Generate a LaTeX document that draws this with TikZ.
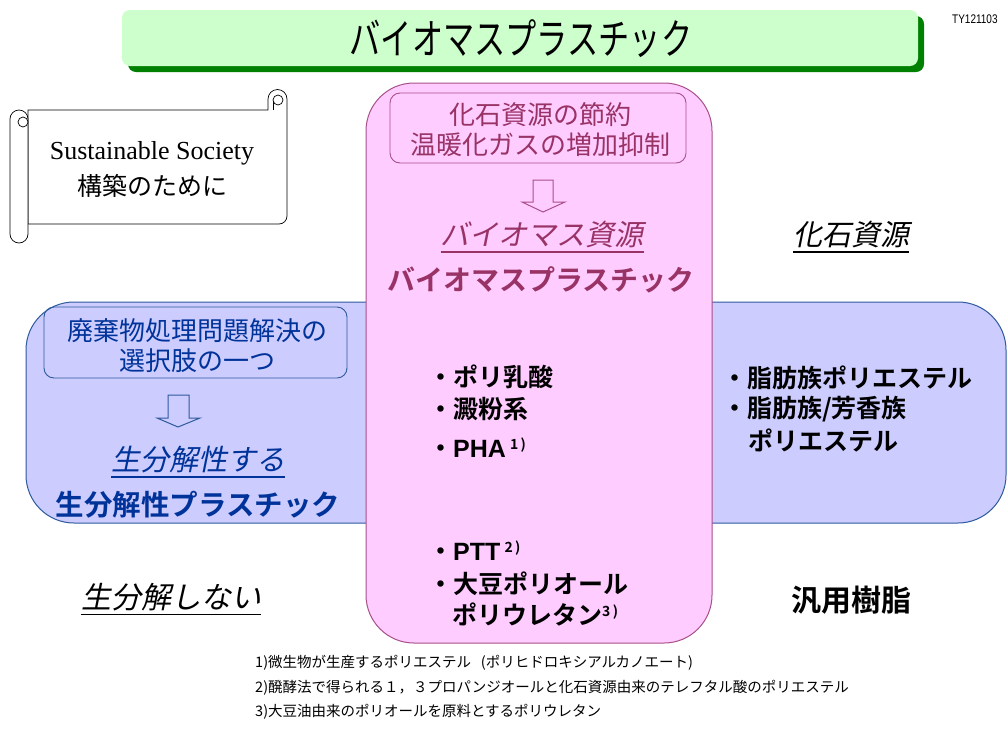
\documentclass[tikz,border=0pt]{standalone}
\usepackage{fontspec}
\setmainfont{Noto Sans CJK JP}[BoldFont={Noto Sans CJK JP Bold}]
\newfontfamily\jpi{Noto Sans CJK JP}[FakeSlant=0.2]
\newfontfamily\latb{Liberation Sans}
\newfontfamily\tnr{Liberation Serif}
\newcommand\myfs[1]{\fontsize{#1}{#1}\selectfont}
\newcommand\myul[1]{\setbox0\hbox{#1}\rlap{\rule[-7pt]{\wd0}{1.5pt}}\box0}
\definecolor{pinkfill}{HTML}{FFCCFF}
\definecolor{pinkline}{HTML}{A8508A}
\definecolor{pinktext}{HTML}{993366}
\definecolor{bluefill}{HTML}{CCCCFF}
\definecolor{blueline}{HTML}{2E5A9E}
\definecolor{bluetext}{HTML}{003399}
\definecolor{greenfill}{HTML}{CCFFCC}
\definecolor{greenshadow}{HTML}{008000}
\tikzset{
  every node/.style={inner sep=0pt},
  bigbox/.style={line width=1pt, rounded corners=48pt},
  innerbox/.style={line width=0.9pt, rounded corners=10pt},
  hollowarrow/.style={line width=1pt, line join=miter},
  jpitext/.style={font=\jpi\myfs{29}},
  jpbold/.style={font=\bfseries\myfs{28}},
  listitem/.style={anchor=west, font=\bfseries\myfs{25}},
  foot/.style={anchor=west, font=\myfs{14.5}},
  scrollline/.style={line width=0.7pt, draw=black, fill=white}
}
\begin{document}
\begin{tikzpicture}[x=1pt,y=-1pt]
\useasboundingbox[fill=white] (0,0) rectangle (1008,742);
% title
\fill[greenshadow, rounded corners=8pt] (128,16) rectangle (924,72);
\fill[greenfill, rounded corners=8pt] (122,10) rectangle (918,66);
\node (title) at (521,39) {\scalebox{0.78}[1.05]{\myfs{40}バイオマスプラスチック}};
\node[anchor=west] (code) at (952,19) {\scalebox{0.8}[1]{\latb\myfs{12.5}TY121103}};
% scroll
\draw[scrollline] (28,110) -- (268,110) -- (268,99)
   arc[start angle=180,end angle=360,radius=9.5] -- (287,216)
   arc[start angle=0,end angle=90,radius=8] -- (28,224) -- cycle;
\draw[scrollline] (28,119) arc[start angle=0,end angle=-180,radius=9] -- (10,234)
   arc[start angle=180,end angle=0,radius=9] -- cycle;
\draw[scrollline] (23,122) circle[radius=5];
\draw[scrollline] (278,100) circle[radius=5];
\draw[line width=0.7pt] (273,101) -- (273,110);
\node (sus) at (152,153) {\tnr\myfs{26}Sustainable Society};
\node (kou) at (152,186) {\myfs{25}構築のために};
% blue horizontal box
\draw[bigbox, fill=bluefill, draw=blueline] (26,302) rectangle (1006,523);
% pink vertical box
\draw[bigbox, fill=pinkfill, draw=pinkline] (366,83) rectangle (712,643);
% pink inner box
\draw[innerbox, draw=pinkline] (390,93) rectangle (686,163);
\node[text=pinktext, font=\myfs{26}, align=center] (save) at (540,130)
  {化石資源の節約\\[4pt]温暖化ガスの増加抑制};
\draw[hollowarrow, draw=pinkline] (533,180) -- (553,180) -- (553,202) -- (565,202)
  -- (543,212) -- (522,202) -- (533,202) -- cycle;
\node[jpitext, text=pinktext] (biores) at (542,237) {\myul{バイオマス資源}};
\node[jpbold, text=pinktext] (biopl) at (541,280) {バイオマスプラスチック};
% blue inner box
\draw[innerbox, draw=blueline] (44,307) rectangle (347,378);
\node[text=bluetext, font=\myfs{26}, align=center] (waste) at (197,346)
  {廃棄物処理問題解決の\\[4pt]選択肢の一つ};
\draw[hollowarrow, draw=blueline] (168,395) -- (189,395) -- (189,418) -- (200,418)
  -- (178,427) -- (157,418) -- (168,418) -- cycle;
\node[jpitext, text=bluetext] (biod) at (198,462) {\myul{生分解性する}};
\node[jpbold, font=\bfseries\myfs{28.5}, text=bluetext] (biodpl) at (198,505) {生分解性プラスチック};
% black labels
\node[jpitext] (fossil) at (851,237) {\myul{化石資源}};
\node[jpbold, font=\bfseries\myfs{30}] (general) at (851,600) {汎用樹脂};
\node[jpitext, font=\jpi\myfs{30}] (nonbio) at (171,599) {\myul{生分解しない}};
% pink lists
\node[listitem] (l1) at (428,377) {・ポリ乳酸};
\node[listitem] (l2) at (428,409) {・澱粉系};
\node[listitem] (l3) at (428,448) {・{\latb\bfseries PHA}\,{\myfs{14}\raisebox{8pt}{1\,)}}};
\node[listitem] (l4) at (428,551) {・{\latb\bfseries PTT}\,{\myfs{14}\raisebox{8pt}{2\,)}}};
\node[listitem] (l5) at (428,584) {・大豆ポリオール};
\node[listitem] (l6) at (452,614) {ポリウレタン{\myfs{14}\raisebox{8pt}{3\,)}}};
% right list
\node[listitem] (r1) at (722,378) {・脂肪族ポリエステル};
\node[listitem] (r2) at (722,409) {・脂肪族/芳香族};
\node[listitem] (r3) at (748,440) {ポリエステル};
% footnotes
\node[foot] (f1) at (255,663) {1)微生物が生産するポリエステル\ \ \ (ポリヒドロキシアルカノエート)};
\node[foot] (f2) at (255,688) {2)醗酵法で得られる１，３プロパンジオールと化石資源由来のテレフタル酸のポリエステル};
\node[foot] (f3) at (255,712) {3)大豆油由来のポリオールを原料とするポリウレタン};
\end{tikzpicture}
\end{document}
